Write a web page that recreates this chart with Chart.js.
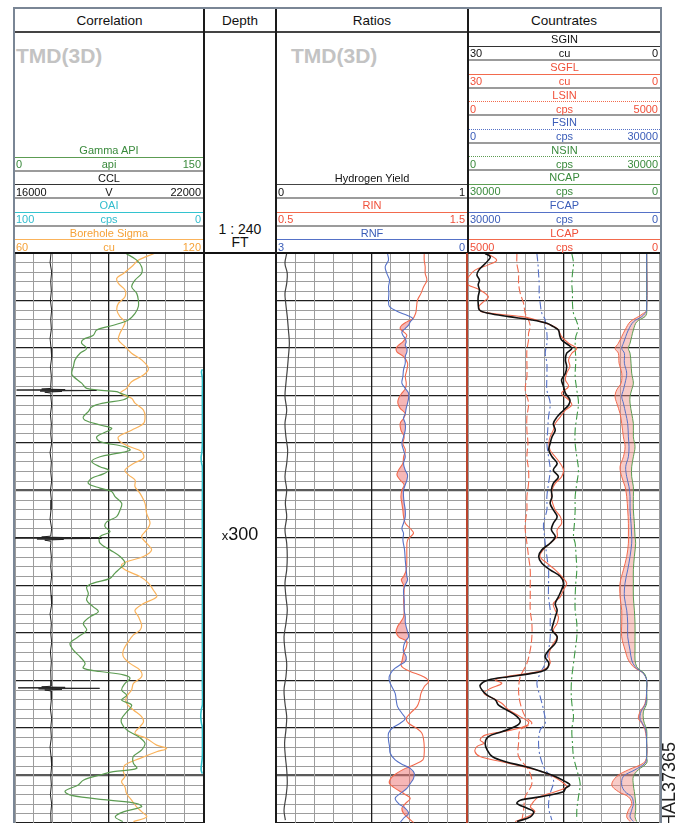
<!DOCTYPE html>
<html>
<head>
<meta charset="utf-8">
<title>TMD(3D) log</title>
<script src="https://cdn.jsdelivr.net/npm/chart.js@4/dist/chart.umd.min.js"></script>
<style>
  body { margin:0; background:#fff; width:678px; height:823px; overflow:hidden; position:relative;
         font-family:"Liberation Sans", Arial, sans-serif; }
  div, canvas { position:absolute; }
  div { white-space:nowrap; }
</style>
</head>
<body>
<div style="left:13px;top:7px;width:645px;height:830px;border:2px solid #7a8695;border-bottom:none;"></div>
<canvas id="corr" width="190" height="572" style="left:14px;top:252px"></canvas>
<canvas id="ratio" width="193" height="572" style="left:275px;top:252px"></canvas>
<canvas id="count" width="193" height="572" style="left:467px;top:252px"></canvas>
<script>
// depth window (ft), grid every 2 ft, heavy line every 10 ft
var depthTop = 240, depthBottom = 360;
var minorStep = 2, majorStep = 10;

// scale ranges, [left edge, right edge]
var gammaScale = [0, 150], cclScale = [16000, 22000], oaiScale = [100, 0], sigmaScale = [60, 120];
var hyScale = [0, 1], rinScale = [0.5, 1.5], rnfScale = [3, 0];
var sgScale = [30, 0], lsinScale = [0, 5000], fsinScale = [0, 30000], nsinScale = [0, 30000];
var capScale = [30000, 0], lcapScale = [5000, 0];

// ---- Correlation track ----
var gammaDepth = [240.1,241.5,242.9,244.3,245.7,247.1,248.5,249.9,251.3,252.7,254.1,255.2,256.2,257.3,258.2,259.0,260.1,261.1,262.5,263.9,265.3,266.0,267.4,268.5,269.2,269.5,270.2,270.9,271.6,272.4,273.4,274.5,275.2,276.2,276.9,277.6,278.7,279.7,280.8,281.5,282.2,282.9,283.9,285.0,285.7,286.5,287.4,288.5,289.5,290.2,291.3,292.7,294.1,295.5,296.6,297.6,298.7,299.7,301.1,302.5,303.9,305.3,306.4,307.4,308.5,309.5,310.3,311.7,313.1,314.5,315.5,316.6,318.0,319.4,320.8,322.2,323.6,325.0,326.4,327.4,328.1,328.8,329.5,330.6,332.0,333.1,334.1,335.2,336.6,338.0,339.0,340.4,341.8,343.2,344.6,346.0,347.4,348.5,349.2,349.9,351.0,352.0,353.3,354.2,355.2,355.9,356.6,357.6,358.7,359.7];
var gammaApi = [88.6,97.1,101,101,95.8,93.1,97.1,98.4,98.4,95.8,90.4,78.5,65.2,62.5,54.5,53.2,57.2,51.9,47.9,46.6,45.2,46.6,53.2,57.2,81.1,83.8,90.4,86.5,70.5,61.2,58.5,54.5,55.9,67.8,77.1,73.2,65.2,67.8,87.8,91.8,81.1,67.8,61.2,67.8,74.5,70.5,61.2,58.5,67.8,77.1,79.8,85.1,83.8,81.1,73.2,71.8,75.8,67.8,67.8,75.8,83.8,87.8,83.8,79.8,75.8,62.5,57.2,58.5,57.2,62.5,66.5,59.8,54.5,57.2,50.5,43.9,46.6,51.9,55.9,54.5,67.8,86.5,91.8,87.8,85.1,89.1,85.1,93.1,89.1,85.1,85.1,89.1,98.4,103.7,101.1,94.4,94.4,97.1,78.5,67.8,54.5,50.5,40,45,75,97,101,87,80,86];

var sigmaDepth = [240.1,241.5,242.9,244.3,245.3,246.4,247.8,249.2,250.6,252.0,253.4,254.5,255.5,256.9,258.3,259.7,261.1,262.5,264.3,265.7,267.1,268.5,269.5,270.6,271.6,273.1,274.5,275.9,277.3,278.7,279.7,280.8,281.8,283.2,284.3,285.7,286.7,287.8,289.2,290.6,292.7,294.8,296.9,298.3,299.7,301.1,302.5,303.9,305.0,305.7,306.7,308.1,309.5,311.0,312.4,313.8,315.2,316.6,318.3,319.4,320.4,321.8,323.6,325.0,326.4,327.8,329.2,330.6,332.0,333.4,334.8,336.2,337.6,338.7,339.7,341.1,342.2,343.6,344.3,345.0,346.4,347.8,349.2,350.2,351.3,352.4,353.8,355.2,356.6,357.6,358.7,359.7];
var sigmaCu = [104.4,99.4,97.2,94.6,92.5,93.0,95.1,95.1,93.0,92.5,93.5,95.1,94.6,93.5,93.0,95.1,97.2,100.4,102.6,101.0,97.2,95.6,93.7,97.2,98.3,101.0,101.5,101.0,97.2,93.0,93.5,96.7,100.4,101.0,97.8,95.1,96.2,98.3,98.3,99.9,101.5,102.0,103.1,102.0,100.4,102.0,103.6,101.0,95.6,94.0,95.1,99.9,102.6,104.2,105.2,101.0,98.3,99.4,100.4,99.9,97.8,96.2,94.6,94.6,96.7,99.9,100.4,97.8,97.2,95.6,95.6,97.8,100.4,101.0,99.9,98.3,102.0,105.2,108.4,105.2,99.9,95.1,94.6,95.1,94.0,95.1,95.6,97.2,98.8,100.4,102.0,97.8];

var cclDepth = [240,242,244,246,248,250,252,254,256,258,260,262,264,266,268,268.5,268.65,268.75,268.85,268.95,269.05,269.15,269.3,269.5,270,272,274,276,278,280,282,284,286,288,290,292,294,296,298,299.6,299.8,299.9,300.0,300.1,300.2,300.3,300.45,300.7,302,304,306,308,310,312,314,316,318,320,322,324,326,328,330,331.2,331.35,331.45,331.55,331.65,331.75,331.85,332.0,332.2,334,336,338,340,342,344,346,348,350,352,354,356,358,360];
var cclVolts = [17150,17120,17170,17140,17160,17130,17170,17140,17160,17120,17150,17170,17130,17160,17140,17150,16850,17600,16050,18600,16800,17500,16950,17150,17140,17170,17130,17160,17140,17170,17120,17160,17140,17170,17130,17160,17150,17120,17170,17140,16850,17600,15980,18760,16700,17550,16950,17150,17130,17160,17140,17170,17130,17150,17170,17120,17160,17140,17170,17130,17160,17140,17150,17150,16850,17600,16100,18700,16750,17500,16950,17150,17160,17130,17170,17140,17160,17120,17150,17170,17140,17160,17130,17170,17140,17150];

var oaiDepth = [264.5,265.0,265.6,266.5,270,275,280,282.0,283.0,284.3,285.0,290,295,300,305,310,315,320,325,330,335,336.2,337.5,339.0,339.8,343,346,347.4,348.8,349.6];
var oaiCps = [0.3,0.8,0.6,0.3,0.35,0.3,0.35,0.6,1.0,0.7,0.35,0.3,0.35,0.3,0.35,0.3,0.3,0.35,0.3,0.35,0.3,0.9,1.2,0.8,0.35,0.3,0.35,0.7,1.0,0.4];

// ---- Ratios track ----
var hyDepth = [240.1,242.2,244.3,246.4,248.5,250.6,253.4,256.2,259.0,261.8,264.6,267.4,270.2,273.1,275.9,278.7,281.5,284.3,287.1,289.9,292.7,295.5,298.3,301.1,303.9,306.7,309.5,312.4,315.2,318.0,320.8,323.6,326.4,329.2,332.0,334.8,337.6,340.4,343.2,346.0,348.8,351.7,354.5,357.3,359.4];
var hyYield = [0.056,0.047,0.059,0.056,0.047,0.051,0.059,0.065,0.070,0.065,0.059,0.052,0.047,0.056,0.047,0.052,0.061,0.056,0.047,0.056,0.049,0.056,0.047,0.056,0.059,0.056,0.047,0.052,0.059,0.052,0.042,0.047,0.056,0.052,0.042,0.047,0.056,0.052,0.045,0.049,0.056,0.059,0.052,0.042,0.049];

var ratioDepth = [240.1,241.5,242.9,244.3,245.7,247.1,248.5,249.9,251.3,252.4,253.1,253.8,254.5,255.2,255.9,256.6,257.3,258.0,258.7,259.4,260.1,260.8,261.8,263.2,264.6,266.0,267.4,268.5,269.5,270.6,271.6,272.7,273.8,274.8,275.9,277.3,278.7,280.1,281.5,282.9,284.3,285.7,286.7,287.8,288.8,289.9,291.3,292.7,294.1,295.5,296.9,298.0,299.0,300.4,302.5,304.6,306.7,308.1,308.8,309.9,311.0,313.1,315.2,316.6,317.6,318.7,319.7,320.8,321.8,322.9,323.9,325.0,326.0,326.7,327.4,328.1,329.2,330.2,331.3,332.7,334.1,335.5,336.9,338.0,339.0,340.1,341.1,342.5,343.9,345.3,346.7,347.8,348.5,349.5,350.6,351.7,352.7,353.8,354.8,355.9,356.9,358.0,359.0,359.9];
var rin = [1.276,1.276,1.281,1.281,1.290,1.273,1.259,1.241,1.236,1.233,1.227,1.217,1.185,1.159,1.150,1.168,1.185,1.177,1.164,1.142,1.129,1.133,1.168,1.189,1.185,1.177,1.182,1.178,1.159,1.142,1.138,1.150,1.177,1.168,1.150,1.154,1.171,1.164,1.177,1.168,1.164,1.142,1.133,1.150,1.171,1.159,1.154,1.159,1.164,1.168,1.177,1.203,1.220,
  1.189,1.185,1.185,1.182,1.168,1.156,1.168,1.171,1.168,1.171,1.168,1.154,1.136,1.129,1.142,1.185,1.182,1.171,1.164,1.159,1.154,1.168,1.203,1.273,1.299,1.276,1.259,1.252,1.238,1.203,1.182,1.194,1.238,1.264,1.273,1.276,1.276,1.269,1.220,1.177,1.133,1.101,1.094,1.124,1.168,1.203,1.177,1.159,1.168,1.194,1.220];
var rnf = [1.248,1.233,1.285,1.259,1.217,1.233,1.227,1.233,1.217,1.075,0.944,0.850,0.892,0.918,0.970,1.023,1.007,0.970,0.955,0.970,0.944,0.944,0.970,0.970,0.997,1.007,1.023,0.970,0.918,0.918,0.934,0.955,0.970,0.997,0.970,0.970,0.997,1.023,0.997,0.970,0.997,0.970,0.934,0.944,0.970,0.997,0.997,0.986,0.970,0.970,0.997,1.023,0.997,
  1.007,0.981,0.970,0.955,0.944,0.934,0.970,0.997,0.986,0.986,0.970,0.970,0.955,0.934,0.918,0.970,0.997,0.997,0.955,0.970,1.049,1.128,1.180,1.222,1.217,1.180,1.128,1.112,1.091,1.023,0.970,1.049,1.180,1.233,1.233,1.217,1.206,1.128,0.997,0.892,0.829,0.839,0.892,0.944,1.049,1.128,1.075,0.970,0.918,0.997,1.049];

// ---- Countrates track ----
var sginDepth = [240.1,240.8,241.5,242.5,243.6,244.6,245.7,246.7,247.8,249.2,250.6,252.0,252.7,253.4,254.1,254.8,255.5,256.2,257.3,258.3,259.4,260.1,261.1,262.5,263.9,265.3,266.7,268.1,269.5,270.9,272.0,273.1,274.5,275.9,277.3,278.7,280.1,281.5,282.9,284.3,285.7,287.1,288.5,289.9,291.3,292.7,294.1,295.5,296.9,298.3,299.7,301.1,302.5,303.9,305.3,306.7,308.1,309.5,310.9,312.4,313.8,315.2,316.6,318.0,319.4,320.8,322.2,323.6,325.0,326.4,327.8,328.5,329.2,329.9,331.0,332.0,333.1,334.1,335.2,336.2,337.6,338.7,339.7,340.8,341.8,343.2,344.6,346.0,347.1,348.1,349.2,350.2,351.3,352.0,352.7,353.4,354.5,355.2,355.9,356.9,357.6,358.7,359.7];
var sginCu = [27.3,26.5,26.8,27.5,28.3,28.6,28.2,28.4,28.2,28.4,28.4,28.2,26.8,23.6,20.0,17.6,16.6,15.8,15.6,15.3,14.2,13.7,14.5,14.7,14.5,14.7,15.3,15.0,14.7,14.0,14.2,15.0,16.0,16.6,16.3,16.8,17.1,17.3,16.8,16.0,16.6,15.8,16.6,16.9,16.8,17.1,16.6,16.0,16.6,16.9,16.3,17.1,18.4,18.9,18.4,17.1,15.5,15.0,15.3,15.8,16.3,16.0,16.3,16.6,16.8,16.0,16.3,17.3,17.9,17.3,17.9,20.0,23.6,26.8,28.1,27.8,27.0,25.7,25.2,23.9,22.3,21.8,22.6,24.7,26.8,27.3,27.0,26.2,24.1,21.0,18.4,16.3,14.7,14.0,14.7,15.0,18.7,21.8,22.3,20.7,19.7,20.2,22.3];

var sgflDepth = [240.1,241.5,242.5,243.6,245.0,246.4,247.8,249.2,250.2,251.3,252.4,253.4,254.5,255.9,257.6,259.0,260.1,261.1,262.5,263.9,265.3,266.7,268.1,269.5,270.9,272.0,273.1,274.5,275.9,277.3,278.7,280.1,281.5,282.9,284.3,285.7,287.1,288.5,289.9,291.3,292.7,294.1,295.5,296.9,298.3,299.7,301.1,302.5,303.9,305.3,306.7,308.1,309.5,310.9,312.4,313.8,315.2,316.6,318.0,319.4,320.8,322.2,323.6,325.0,326.4,327.8,328.5,329.2,329.9,330.6,331.7,332.7,333.8,334.8,336.2,337.6,338.7,339.4,340.4,341.5,342.5,343.2,343.9,345.0,346.0,347.1,348.1,349.2,350.2,351.3,352.4,353.4,354.5,355.5,356.6,357.6,358.7,359.7];
var sgflCu = [27.0,25.5,26.8,28.9,29.9,30.3,28.1,26.8,27.5,28.3,27.8,21.5,18.4,16.0,15.3,14.2,12.9,13.7,14.2,14.0,14.5,14.7,14.2,15.3,14.2,13.7,14.7,15.5,16.3,16.6,17.1,17.3,17.1,16.3,15.5,15.0,15.3,16.3,16.8,16.9,16.7,16.3,15.5,15.3,16.0,16.0,17.1,18.2,18.7,17.6,16.3,15.3,14.5,15.0,15.5,16.6,16.3,15.8,16.0,16.6,16.0,16.6,17.1,17.3,17.1,18.2,20.5,24.1,25.7,24.7,26.5,27.5,26.0,24.7,23.6,21.8,20.5,20.7,23.1,27.3,28.1,27.5,28.6,28.9,28.1,24.7,21.5,18.4,16.6,15.3,14.5,16.3,18.9,19.7,20.2,19.5,20.7,22.6];

var lsinDepth = [240.1,242.2,244.3,246.4,248.5,250.6,252.7,254.1,255.5,256.9,258.3,260.4,263.2,266.0,268.8,271.6,274.5,277.3,280.1,282.9,285.7,288.5,291.3,294.1,296.9,298.3,301.1,303.9,306.7,309.5,312.4,315.2,318.0,320.8,323.6,326.4,327.8,329.2,332.0,334.8,337.6,339.0,340.4,343.2,346.0,348.8,351.7,354.5,357.3,359.4];
var lsinCps = [1280,1280,1324,1324,1368,1455,1498,1585,1629,1585,1585,1542,1542,1542,1498,1585,1542,1542,1568,1542,1585,1585,1542,1542,1498,1498,1542,1585,1629,1629,1629,1629,1672,1672,1629,1542,1455,1368,1324,1368,1498,1672,1368,1324,1324,1585,1672,1498,1455,1411];

var fsinDepth = [240.1,242.2,244.3,246.4,248.5,250.6,252.7,254.1,255.5,256.9,259.0,261.1,263.2,266.0,268.8,271.6,274.5,277.3,280.1,282.9,285.7,288.5,291.3,294.1,296.9,299.7,301.1,303.9,306.7,309.5,312.4,315.2,318.0,320.8,323.6,326.4,328.5,330.6,333.4,336.2,339.0,340.4,343.2,346.0,348.8,351.0,353.8,356.6,359.4];
var fsinCps = [10820,10980,11080,11180,11180,11340,11600,12130,12130,12390,12390,12130,12390,12390,12390,12910,12650,12520,12390,12650,12910,12650,12390,12390,11860,12020,12130,12390,12650,12650,12650,12910,12910,12910,12650,12130,11340,10820,11340,11860,12130,11340,11080,11340,12130,13430,12910,12650,13170];

var nsinDepth = [240.1,242.2,244.3,246.4,248.5,250.6,252.7,254.5,255.9,257.6,259.7,262.5,266.0,268.8,271.6,274.5,277.3,280.1,282.9,285.7,288.5,291.3,294.1,296.9,299.7,301.1,303.9,306.7,309.5,312.4,315.2,318.0,320.8,323.6,326.4,329.2,332.0,334.8,337.6,340.4,343.2,346.0,348.8,351.7,354.5,357.3,359.4];
var nsinCps = [16310,16570,16410,16310,16410,16410,16570,17090,17350,16930,16830,16930,16830,17090,17350,17090,16830,16830,17090,17350,17090,16830,16830,16720,16570,16830,16980,17090,16930,16830,16830,17090,17090,16830,16570,16310,16200,16310,16570,16310,16410,16570,17090,17610,17350,17090,17090];

var capDepth = [240.1,252.0,252.7,253.4,254.5,256.2,257.6,259.0,260.1,261.1,263.2,265.3,267.4,268.8,270.2,271.6,273.8,275.9,278.7,280.8,282.9,285.0,287.1,289.2,291.3,294.1,296.9,299.7,301.1,303.9,306.7,309.5,312.4,315.2,318.0,320.8,323.6,325.7,327.1,327.8,328.5,329.9,332.0,334.8,336.6,338.0,339.0,340.4,343.2,346.0,347.4,348.8,350.2,352.0,353.4,354.5,355.9,357.3,358.7,359.7];
var lcapCps = [322,322,409,540,758,888,976,1063,1150,1063,1045,976,993,1106,1150,1106,1019,976,932,888,932,1019,976,888,845,819,801,801,801,845,932,1019,1019,976,976,976,888,801,671,540,409,322,322,366,496,540,453,366,322,322,409,801,1106,1237,1063,801,714,801,845,758];
var fcapCps = [1936,1936,2198,2720,4027,4811,5229,5595,5856,5438,5438,5072,5333,5595,5856,5595,5229,4915,4811,4706,4811,5229,5072,4706,4549,4549,4393,4288,4288,4549,4915,5333,5438,5072,4915,4915,4549,4288,3765,3138,2459,1936,1936,2093,2825,2982,2616,2093,1936,1936,2198,3765,5595,5856,5333,4288,4027,4288,4549,4027];
var ncapCps = [1936,1936,1936,2198,3504,4027,4288,4549,4811,4549,4393,4288,4027,4288,4549,4549,4288,4027,4027,3765,4027,4288,4288,4027,4027,4027,3870,3765,3661,3870,4027,4027,4027,3870,3765,3765,3765,3765,3504,2982,2302,1936,1936,1936,2459,2459,2302,1936,1936,1936,1936,3243,4027,4027,3870,3765,3661,3661,3765,3504];

var RED = '#f26a4d', BLUE = '#5571c7', GREEN = '#5c9c52', ORANGE = '#fab35b', CYAN = '#33c3cf';

// ---------- html helpers ----------
function el(css, txt) {
  var d = document.createElement('div');
  d.style.cssText = css;
  if (txt !== undefined) d.textContent = txt;
  document.body.appendChild(d);
  return d;
}
function rule(x, y, w, h, color) {
  el('left:' + x + 'px;top:' + y + 'px;width:' + w + 'px;height:' + h + 'px;background:' + color + ';z-index:3');
}
function label(txt, x, y, w, align, color, size) {
  el('left:' + x + 'px;top:' + y + 'px;width:' + w + 'px;text-align:' + align + ';color:' + color +
     ';font-size:' + (size || 11) + 'px;line-height:14px;z-index:4', txt);
}

var blockH = 27.6;
function header(x, w, top0, rows) {
  rows.forEach(function (r, i) {
    var t = top0 + i * blockH;
    label(r.name, x, t + 0.3, w, 'center', r.text);
    el('left:' + x + 'px;top:' + Math.round(t + 14) + 'px;width:' + w + 'px;height:0;z-index:3;border-top:' +
       (r.dotted ? '1.5px dotted ' : '1.5px solid ') + r.line);
    label(String(r.range[0]), x + 1, t + 14.3, w, 'left', r.text);
    label(r.unit, x, t + 14.3, w, 'center', r.text);
    label(String(r.range[1]), x, t + 14.3, w - 2, 'right', r.text);
    rule(x, Math.round(t + 27), w, 2, '#9b9b9b');
  });
}

// titles
[['Correlation', 15, 189], ['Depth', 204, 72], ['Ratios', 276, 192], ['Countrates', 468, 192]].forEach(function (t) {
  el('left:' + t[1] + 'px;top:9px;width:' + t[2] + 'px;height:23px;line-height:23px;text-align:center;font-size:13.5px;color:#111', t[0]);
});
el('left:16px;top:45px;font-size:21px;line-height:21px;font-weight:bold;color:#c3c3c3', 'TMD(3D)');
el('left:291px;top:45px;font-size:21px;line-height:21px;font-weight:bold;color:#c3c3c3', 'TMD(3D)');
el('left:204px;top:222px;width:72px;text-align:center;font-size:14px;line-height:14px;color:#111', '1 : 240');
el('left:204px;top:235px;width:72px;text-align:center;font-size:14px;line-height:14px;color:#111', 'FT');
el('left:204px;top:525px;width:72px;text-align:center;font-size:18px;line-height:18px;color:#111',
   '').innerHTML = '<span style="font-size:13px">x</span>300';
el('left:660px;top:827px;font-size:18px;line-height:18px;color:#222;transform:rotate(-90deg);transform-origin:0 0', 'HAL37365');

header(15, 188, 253 - 4 * blockH, [
  { name: 'Gamma API', unit: 'api', range: gammaScale, text: '#3a8a3c', line: GREEN },
  { name: 'CCL', unit: 'V', range: cclScale, text: '#111', line: '#333' },
  { name: 'OAI', unit: 'cps', range: oaiScale, text: '#31bccd', line: CYAN },
  { name: 'Borehole Sigma', unit: 'cu', range: sigmaScale, text: '#f5a238', line: ORANGE }
]);
header(277, 190, 253 - 3 * blockH, [
  { name: 'Hydrogen Yield', unit: '', range: hyScale, text: '#111', line: '#444' },
  { name: 'RIN', unit: '', range: rinScale, text: '#f0503a', line: RED },
  { name: 'RNF', unit: '', range: rnfScale, text: '#3a5cb8', line: BLUE }
]);
header(469, 191, 32, [
  { name: 'SGIN', unit: 'cu', range: sgScale, text: '#111', line: '#333' },
  { name: 'SGFL', unit: 'cu', range: sgScale, text: '#f0503a', line: RED },
  { name: 'LSIN', unit: 'cps', range: lsinScale, text: '#f0503a', line: RED, dotted: true },
  { name: 'FSIN', unit: 'cps', range: fsinScale, text: '#3a5cb8', line: BLUE, dotted: true },
  { name: 'NSIN', unit: 'cps', range: nsinScale, text: '#3a8a3c', line: GREEN, dotted: true },
  { name: 'NCAP', unit: 'cps', range: capScale, text: '#3a8a3c', line: GREEN },
  { name: 'FCAP', unit: 'cps', range: capScale, text: '#3a5cb8', line: BLUE },
  { name: 'LCAP', unit: 'cps', range: lcapScale, text: '#f0503a', line: RED }
]);

// frame lines
rule(15, 31, 645, 2, '#444');
rule(15, 252, 645, 2, '#111');
rule(203, 9, 2, 820, '#1a1a1a');
rule(275, 9, 2, 820, '#1a1a1a');
rule(467, 9, 2, 244, '#1a1a1a');
rule(466, 253, 2, 575, '#b8432c');

// ---------- charts ----------
function depthAxis() {
  return {
    type: 'linear', min: depthTop, max: depthBottom, reverse: true,
    ticks: { display: false, stepSize: minorStep, autoSkip: false },
    grid: {
      drawTicks: false,
      color: function (c) {
        var v = c.tick ? c.tick.value : 0;
        if (v === 290 || v === 350) return '#5a5a5a';
        return v % majorStep === 0 ? '#1e1e1e' : '#9d9d9d';
      },
      lineWidth: function (c) {
        var v = c.tick ? c.tick.value : 0;
        if (v === 290 || v === 350) return 2.2;
        return v % majorStep === 0 ? 1.3 : 1;
      }
    },
    border: { display: false }
  };
}
function divisionAxis() {
  return {
    type: 'linear', axis: 'x', position: 'bottom', min: 0, max: 10,
    ticks: { display: false, stepSize: 1 },
    grid: {
      drawTicks: false,
      color: function (c) { return c.tick && c.tick.value === 5 ? '#1e1e1e' : '#9d9d9d'; },
      lineWidth: function (c) { return c.tick && c.tick.value === 5 ? 1.3 : 1; }
    },
    border: { display: false }
  };
}
function ax(r) {
  return { type: 'linear', axis: 'x', display: false, min: Math.min(r[0], r[1]), max: Math.max(r[0], r[1]), reverse: r[0] > r[1] };
}
function curve(depths, vals, axisId, color, width, extra) {
  var ds = {
    data: depths.map(function (d, i) { return { x: vals[i], y: d }; }),
    xAxisID: axisId, yAxisID: 'y', borderColor: color, borderWidth: width,
    pointRadius: 0, tension: 0.35, fill: false
  };
  for (var k in extra) ds[k] = extra[k];
  return ds;
}
function track(id, datasets, axes) {
  var scales = { y: depthAxis(), xg: divisionAxis() };
  for (var k in axes) scales[k] = ax(axes[k]);
  return new Chart(document.getElementById(id), {
    type: 'line',
    data: { datasets: datasets },
    options: {
      indexAxis: 'y', responsive: false, animation: false, events: [],
      layout: { padding: 1 },
      plugins: { legend: { display: false }, tooltip: { enabled: false } },
      scales: scales
    }
  });
}

track('corr', [
  curve(cclDepth, cclVolts, 'ccl', '#222', 1, { tension: 0 }),
  curve(gammaDepth, gammaApi, 'gr', GREEN, 1.2),
  curve(oaiDepth, oaiCps, 'oai', CYAN, 1.6),
  curve(sigmaDepth, sigmaCu, 'sig', ORANGE, 1.2)
], { ccl: cclScale, gr: gammaScale, oai: oaiScale, sig: sigmaScale });

// RIN / RNF crossover shading: rnf moved onto the rin scale, shaded where rin sits left of rnf
var rnfOnRin = rnf.map(function (v) {
  var f = (rnfScale[0] - v) / (rnfScale[0] - rnfScale[1]);
  return rinScale[0] + f * (rinScale[1] - rinScale[0]);
});
var ratioEdge = rin.map(function (v, i) { return Math.max(v, rnfOnRin[i]); });

track('ratio', [
  curve(hyDepth, hyYield, 'hy', '#444', 1.2),
  curve(ratioDepth, rnf, 'rnf', BLUE, 1.1),
  curve(ratioDepth, rin, 'rin', RED, 1.1),
  curve(ratioDepth, ratioEdge, 'rin', 'rgba(0,0,0,0)', 0.01, { fill: '-1', backgroundColor: 'rgba(238,112,112,0.5)' })
], { hy: hyScale, rnf: rnfScale, rin: rinScale });

// NCAP moved onto the LCAP scale, shaded where LCAP sits left of NCAP
var ncapOnLcap = ncapCps.map(function (v) {
  var f = (capScale[0] - v) / (capScale[0] - capScale[1]);
  return lcapScale[0] + f * (lcapScale[1] - lcapScale[0]);
});
var capEdge = lcapCps.map(function (v, i) { return Math.min(v, ncapOnLcap[i]); });

track('count', [
  curve(sginDepth, sginCu, 'sg', '#111', 1.6),
  curve(sgflDepth, sgflCu, 'sg', RED, 1.1),
  curve(lsinDepth, lsinCps, 'ls', RED, 1.1, { borderDash: [8, 3] }),
  curve(fsinDepth, fsinCps, 'fs', BLUE, 1.1, { borderDash: [8, 3, 2, 3] }),
  curve(nsinDepth, nsinCps, 'ns', '#3f9a45', 1.1, { borderDash: [8, 3, 2, 3] }),
  curve(capDepth, fcapCps, 'cap', BLUE, 1),
  curve(capDepth, ncapCps, 'cap', GREEN, 1),
  curve(capDepth, lcapCps, 'lc', RED, 1),
  curve(capDepth, capEdge, 'lc', 'rgba(0,0,0,0)', 0.01, { fill: '-1', backgroundColor: 'rgba(240,140,130,0.45)' })
], { sg: sgScale, ls: lsinScale, fs: fsinScale, ns: nsinScale, cap: capScale, lc: lcapScale });
</script>
</body>
</html>
